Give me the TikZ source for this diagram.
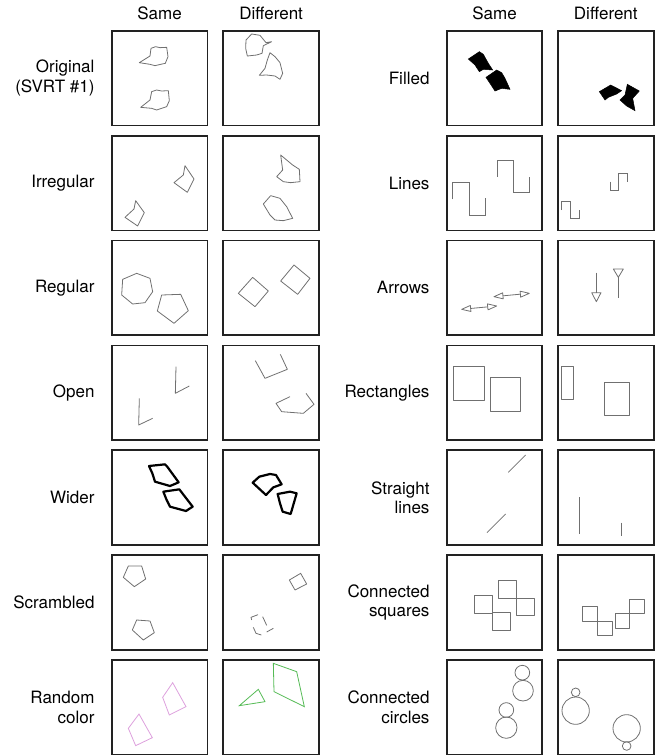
\documentclass[tikz,border=0pt]{standalone}
\usepackage{fontspec}
\setmainfont{TeX Gyre Heros}
\definecolor{boxc}{HTML}{222222}
\definecolor{sg}{HTML}{707070}
\definecolor{pinkc}{HTML}{DDA0DD}
\definecolor{greenc}{HTML}{55BB55}
\begin{document}
\begin{tikzpicture}[x=1pt,y=-1pt,
  frame/.style={draw=boxc,line width=1.8pt},
  shp/.style={draw=sg,line width=0.8pt,line join=round},
  wide/.style={draw=black,line width=2.2pt,line join=round},
  fil/.style={fill=black,draw=black,line width=0.5pt},
  hd/.style={anchor=base,font=\fontsize{17}{19.5}\selectfont},
  lab/.style={anchor=east,align=right,font=\fontsize{17}{19.5}\selectfont}]
\useasboundingbox (0,0) rectangle (657,755);
% frames
\foreach \c/\xx in {a/111.8,b/223.3,c/446.7,d/558}{
  \foreach \r/\yy in {1/30.7,2/135.6,3/240.5,4/345.4,5/450.3,6/555.2,7/660.1}{
    \draw[frame] (\xx,\yy) rectangle ++(95.6,94.8);
  }
}
% headers
\node[hd] (h1) at (159.6,19) {Same};
\node[hd] (h2) at (271.1,19) {Different};
\node[hd] (h3) at (494.5,19) {Same};
\node[hd] (h4) at (605.8,19) {Different};
% labels
\node[lab] (l1) at (98,78.1) {Original\\(SVRT \#1)};
\node[lab] (l2) at (98,183) {Irregular};
\node[lab] (l3) at (98,287.9) {Regular};
\node[lab] (l4) at (98,392.8) {Open};
\node[lab] (l5) at (98,497.7) {Wider};
\node[lab] (l6) at (98,602.6) {Scrambled};
\node[lab] (l7) at (98,707.5) {Random\\color};
\node[lab] (r1) at (433,78.1) {Filled};
\node[lab] (r2) at (433,183) {Lines};
\node[lab] (r3) at (433,287.9) {Arrows};
\node[lab] (r4) at (433,392.8) {Rectangles};
\node[lab] (r5) at (433,497.7) {Straight\\lines};
\node[lab] (r6) at (433,602.6) {Connected\\squares};
\node[lab] (r7) at (433,707.5) {Connected\\circles};
% ---- zoom 1 region
\begin{scope}[shift={(100,0)},scale=1/3]
  \draw[shp] (118,188)--(150,168)--(153,145)--(167,140)--(180,143)--(200,142)--(204,170)--(196,190)--(182,193)--(165,197)--(150,193)--cycle;
  \draw[shp] (122,322)--(150,300)--(155,275)--(170,270)--(185,273)--(205,272)--(208,302)--(200,320)--(185,325)--(170,330)--(155,325)--cycle;
  \draw[shp] (438,120)--(455,102)--(480,106)--(498,128)--(515,125)--(490,137)--(486,160)--(470,165)--(442,168)--(437,145)--cycle;
  \draw[shp] (478,226)--(495,205)--(502,180)--(510,158)--(525,170)--(540,188)--(548,220)--(540,238)--(525,228)--(500,225)--cycle;
  \draw[shp] (255,497)--(282,537)--(262,577)--(222,548)--(250,525)--cycle;
  \draw[shp] (107,602)--(133,638)--(113,678)--(75,652)--(102,627)--cycle;
  \draw[shp] (542,465)--(578,495)--(598,508)--(600,545)--(572,548)--(550,545)--(530,530)--(548,510)--cycle;
  \draw[shp] (490,612)--(512,587)--(540,595)--(560,620)--(578,655)--(550,662)--(525,660)--(510,645)--cycle;
\end{scope}
% ---- zoom 2 region
\begin{scope}[shift={(440,0)},scale=1/3]
  \draw[fil] (85,177)--(118,155)--(130,163)--(145,190)--(158,210)--(130,208)--(118,215)--(105,195)--cycle;
  \draw[fil] (138,232)--(170,210)--(185,218)--(195,235)--(210,268)--(185,265)--(165,273)--(150,250)--cycle;
  \draw[fil] (478,275)--(512,255)--(545,272)--(530,282)--(505,292)--(495,300)--cycle;
  \draw[fil] (562,253)--(598,273)--(578,295)--(585,332)--(560,318)--(540,300)--(555,285)--cycle;
  \draw[shp,line join=miter] (38,598)--(38,548)--(88,548)--(88,645)--(136,645)--(136,595);
  \draw[shp,line join=miter] (173,530)--(173,482)--(221,482)--(221,578)--(269,578)--(269,530);
  \draw[shp,line join=miter] (364,630)--(364,605)--(390,605)--(390,656)--(417,656)--(417,630);
  \draw[shp,line join=miter] (512,545)--(512,570)--(536,570)--(536,520)--(561,520)--(561,545);
\end{scope}
% ---- zoom 3 region
\begin{scope}[shift={(100,230)},scale=1/3]
  \draw[shp] (110,130)--(150,145)--(158,185)--(135,218)--(98,222)--(65,195)--(68,148)--cycle;
  \draw[shp] (185,195)--(242,193)--(265,242)--(222,280)--(172,243)--cycle;
  \draw[shp] (458,142)--(505,183)--(465,230)--(415,190)--cycle;
  \draw[shp] (582,105)--(630,145)--(593,193)--(542,153)--cycle;
  \draw[shp] (228,410)--(226,490)--(268,468);
  \draw[shp] (118,505)--(116,585)--(158,565);
  \draw[shp] (466,392)--(495,445)--(562,418)--(541,373);
  \draw[shp] (570,500)--(528,520)--(545,545)--(610,550)--(642,523)--(618,490);
\end{scope}
% ---- zoom 4 region
\begin{scope}[shift={(440,230)},scale=1/3]
  \draw[shp] (91.9,235.4)--(143.1,230.6);
  \draw[shp] (65,238)--(92.8,244.4)--(91.0,226.4)--cycle;
  \draw[shp] (170,228)--(144.0,239.6)--(142.2,221.6)--cycle;
  \draw[shp] (188.9,197.5)--(241.1,192.5);
  \draw[shp] (162,200)--(189.7,206.5)--(188.0,188.5)--cycle;
  \draw[shp] (268,190)--(241.9,201.5)--(240.3,183.5)--cycle;
  \draw[shp] (469,128)--(469,188);
  \draw[shp] (455,188)--(483,188)--(469,215)--cycle;
  \draw[shp] (520,117)--(550,117)--(535,142)--cycle;
  \draw[shp] (535,142)--(535,205);
  \draw[shp] (40,408) rectangle (133,510);
  \draw[shp] (150,442) rectangle (242,543);
  \draw[shp] (364,408) rectangle (401,509);
  \draw[shp] (493,456) rectangle (568,556);
\end{scope}
% ---- zoom 5 region
\begin{scope}[shift={(100,440)},scale=1/3]
  \draw[wide] (147,78)--(195,73)--(201,79)--(236,127)--(210,138)--(165,125)--(157,100)--cycle;
  \draw[wide] (190,155)--(238,148)--(278,200)--(258,213)--(210,200)--(200,180)--cycle;
  \draw[wide] (458,128)--(478,110)--(510,102)--(528,105)--(545,133)--(520,142)--(498,165)--cycle;
  \draw[wide] (533,162)--(570,155)--(590,160)--(572,222)--(548,215)--(540,190)--cycle;
  \draw[shp] (85,378)--(125,378)--(137,417)--(103,440)--(70,412)--cycle;
  \draw[shp] (110,540)--(150,543)--(163,578)--(130,600)--(97,570)--cycle;
  \draw[shp] (568,420)--(602,400)--(620,432)--(585,450)--cycle;
  \draw[shp] (455,540)--(453,532)--(474,524);
  \draw[shp] (488,530)--(500,556);
  \draw[shp] (520,565)--(500,576);
  \draw[shp] (484,585)--(468,580)--(460,562);
  \draw[draw=pinkc,line width=0.8pt] (188,772)--(218,728)--(258,800)--(208,825)--cycle;
  \draw[draw=pinkc,line width=0.8pt] (85,865)--(117,822)--(157,893)--(107,917)--cycle;
  \draw[draw=greenc,line width=0.8pt] (418,797)--(475,748)--(495,785)--cycle;
  \draw[draw=greenc,line width=0.8pt] (520,670)--(590,695)--(613,800)--(522,755)--cycle;
\end{scope}
% ---- zoom 6 region
\begin{scope}[shift={(440,440)},scale=1/3]
  \draw[shp] (205,97)--(257,45);
  \draw[shp] (141,278)--(197,222);
  \draw[shp] (417,172)--(417,282);
  \draw[shp] (545,248)--(545,287);
  \draw[shp] (104,467) rectangle (157,520);
  \draw[shp] (157,518) rectangle (210,572);
  \draw[shp] (176,422) rectangle (229,475);
  \draw[shp] (229,475) rectangle (282,527);
  \draw[shp] (427,500) rectangle (471,544);
  \draw[shp] (471,544) rectangle (516,587);
  \draw[shp] (525,521) rectangle (569,565);
  \draw[shp] (569,479) rectangle (613,521);
  \draw[shp] (247,698) circle[radius=22];
  \draw[shp] (249,752) circle[radius=31];
  \draw[shp] (199,810) circle[radius=22];
  \draw[shp] (199,863) circle[radius=32];
  \draw[shp] (407,757) circle[radius=13];
  \draw[shp] (407,812) circle[radius=41];
  \draw[shp] (560,865) circle[radius=41];
  \draw[shp] (560,918) circle[radius=13];
\end{scope}
\end{tikzpicture}
\end{document}
